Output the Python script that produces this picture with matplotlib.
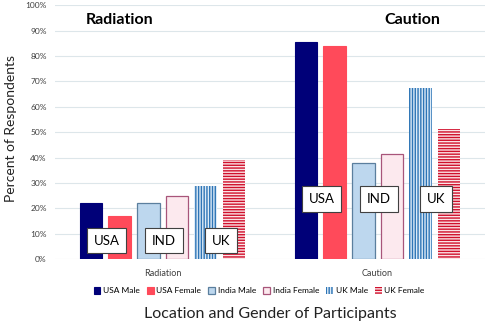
import matplotlib
matplotlib.use("Agg")
import matplotlib.pyplot as plt
import numpy as np

plt.rcParams['font.family'] = ['Lato', 'DejaVu Sans']
plt.rcParams['hatch.linewidth'] = 1.0

topics = ["Radiation", "Caution"]
series = ["USA Male", "USA Female", "India Male", "India Female", "UK Male", "UK Female"]
values = {
    "USA Male":     [22.3, 85.4],
    "USA Female":   [17.2, 84.1],
    "India Male":   [22.0, 37.8],
    "India Female": [24.9, 41.6],
    "UK Male":      [28.9, 67.6],
    "UK Female":    [39.1, 51.2],
}
country_labels = ["USA", "IND", "UK"]

styles = {
    "USA Male":     dict(color="#000078", edgecolor="#000078", linewidth=0.8),
    "USA Female":   dict(color="#FF4A5A", edgecolor="#FF4A5A", linewidth=0.8),
    "India Male":   dict(color="#BDD7EE", edgecolor="#5B7F9E", linewidth=0.9),
    "India Female": dict(color="#FCE9EE", edgecolor="#A8557A", linewidth=0.9),
    "UK Male":      dict(color="#DDEBF7", edgecolor="#2E75B6", linewidth=0, hatch="||||||"),
    "UK Female":    dict(color="#FBE3E6", edgecolor="#D0102C", linewidth=0, hatch="------"),
}

fig = plt.figure(figsize=(4.87, 3.25), dpi=100)
ax = fig.add_axes([0.113, 0.2022, 0.883, 0.7815])

x = np.arange(len(topics))
width = 0.105
pitch = 0.133
handles = []
for i, s in enumerate(series):
    off = (i - 2.5) * pitch
    b = ax.bar(x + off, values[s], width, label=s, **styles[s])
    handles.append(b)

ax.set_xlim(-0.5, 1.5)
ax.set_ylim(0, 100)
ax.set_yticks(np.arange(0, 101, 10))
ax.set_yticklabels([f"{v}%" for v in range(0, 101, 10)], fontsize=6, color="#404040")
ax.set_xticks(x)
ax.set_xticklabels(topics, fontsize=6.5, color="#404040")
ax.tick_params(length=0, axis="y", pad=6)
ax.tick_params(length=0, axis="x", pad=7)
for sp in ax.spines.values():
    sp.set_visible(False)
ax.yaxis.grid(True, color="#DDE6EA", linewidth=0.8)
ax.set_axisbelow(True)

# topic headings
for xi, t in zip(x, topics):
    ax.text(xi - 0.2 if xi == 0 else xi + 0.16, 94.2, t, ha="center", va="center",
            fontsize=11.5, fontweight="bold", color="black")

# country boxes over each pair of bars
box_y = [7.3, 23.7]
for xi, by in zip(x, box_y):
    for j, lab in enumerate(country_labels):
        cx = xi + (j - 1) * 2 * pitch + 0.05 * pitch
        ax.text(cx, by, lab, ha="center", va="center", fontsize=9.5, color="black",
                bbox=dict(boxstyle="square,pad=0.5", facecolor="white",
                          edgecolor="#404040", linewidth=0.8), zorder=5)

ax.set_ylabel("Percent of Respondents", fontsize=10, color="#222222")
ax.yaxis.set_label_coords(-0.088, 0.513)
fig.text(0.555, 0.035, "Location and Gender of Participants", ha="center", va="center",
         fontsize=11.5, color="#222222")

fig.legend(handles=handles, labels=series, loc="center", bbox_to_anchor=(0.532, 0.105),
           ncol=6, frameon=False, fontsize=6, handlelength=0.8, handleheight=0.8,
           handletextpad=0.3, columnspacing=0.9)

fig.savefig("out.png", dpi=100)
